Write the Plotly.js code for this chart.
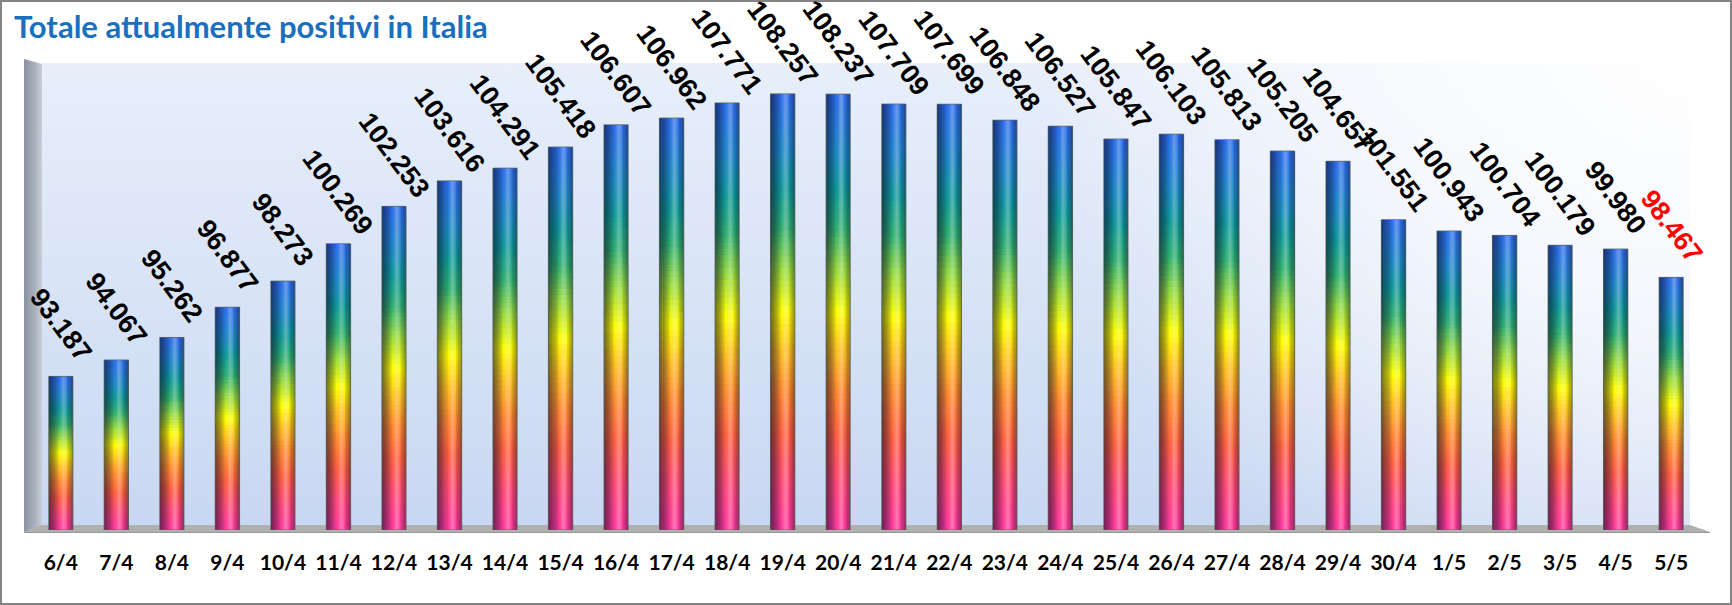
<!DOCTYPE html>
<html>
<head>
<meta charset="utf-8">
<script src="https://cdn.plot.ly/plotly-3.0.1.min.js"></script>
<style>
  html, body { margin: 0; padding: 0; background: #ffffff; }
  #chart { width: 1732px; height: 605px; }
</style>
</head>
<body>
<div id="chart"></div>
<script>
// ---- data ----
const dates = ["6/4","7/4","8/4","9/4","10/4","11/4","12/4","13/4","14/4","15/4",
               "16/4","17/4","18/4","19/4","20/4","21/4","22/4","23/4","24/4","25/4",
               "26/4","27/4","28/4","29/4","30/4","1/5","2/5","3/5","4/5","5/5"];
const positivi = [93187, 94067, 95262, 96877, 98273, 100269, 102253, 103616, 104291, 105418,
                  106607, 106962, 107771, 108257, 108237, 107709, 107699, 106848, 106527, 105847,
                  106103, 105813, 105205, 104657, 101551, 100943, 100704, 100179, 99980, 98467];
const yMin = 85000, yMax = 110000;

// ---- style ----
const W = 1732, H = 605;
const M = {l: 33, r: 33, t: 61, b: 75};
const barW = 0.44;
const gradStops = [
  [0.00, [255, 58, 160]],
  [0.11, [255, 74, 120]],
  [0.22, [255, 96, 64]],
  [0.32, [255, 138, 48]],
  [0.41, [255, 192, 32]],
  [0.50, [255, 255, 0]],
  [0.60, [150, 218, 64]],
  [0.69, [48, 176, 112]],
  [0.78, [16, 154, 154]],
  [0.87, [32, 136, 200]],
  [1.00, [47, 111, 240]]
];
function gradColor(f) {
  for (let i = 1; i < gradStops.length; i++) {
    if (f <= gradStops[i][0]) {
      const [f0, c0] = gradStops[i - 1], [f1, c1] = gradStops[i];
      const t = (f - f0) / (f1 - f0);
      const c = c0.map((v, j) => Math.round(v + (c1[j] - v) * t));
      return `rgb(${c[0]},${c[1]},${c[2]})`;
    }
  }
  const c = gradStops[gradStops.length - 1][1];
  return `rgb(${c[0]},${c[1]},${c[2]})`;
}
function fmt(v) {
  const th = Math.floor(v / 1000), r = v % 1000;
  return th > 0 ? th + "." + String(r).padStart(3, "0") : String(r);
}

const idx = dates.map((d, i) => i);
const traces = [];

// vertical colour gradient: overlaid segments each reaching the bar top
const N = 70;
for (let k = 0; k < N; k++) {
  traces.push({
    type: "bar", x: idx,
    base: positivi.map(v => yMin + (v - yMin) * k / N),
    y: positivi.map(v => (v - yMin) * (N - k) / N),
    width: barW,
    marker: {color: gradColor((k + 0.5) / N), line: {width: 0}},
    hoverinfo: "skip", showlegend: false
  });
}
// cylinder shading (left dark, right dark, highlight)
const K = 10;
for (let j = 0; j < K; j++) {
  const wl = barW * 0.42 * (K - j) / K;
  traces.push({
    type: "bar", x: idx, base: positivi.map(() => yMin), y: positivi.map(v => v - yMin),
    width: wl, offset: -barW / 2,
    marker: {color: "rgba(10,15,40,0.075)", line: {width: 0}},
    hoverinfo: "skip", showlegend: false
  });
  const wr = barW * 0.25 * (K - j) / K;
  traces.push({
    type: "bar", x: idx, base: positivi.map(() => yMin), y: positivi.map(v => v - yMin),
    width: wr, offset: barW / 2 - wr,
    marker: {color: "rgba(10,15,40,0.05)", line: {width: 0}},
    hoverinfo: "skip", showlegend: false
  });
  const wh = barW * 0.3 * (K - j) / K;
  traces.push({
    type: "bar", x: idx, base: positivi.map(() => yMin), y: positivi.map(v => v - yMin),
    width: wh, offset: barW * 0.12 - wh / 2,
    marker: {color: "rgba(255,255,255,0.035)", line: {width: 0}},
    hoverinfo: "skip", showlegend: false
  });
}
// outline
traces.push({
  type: "bar", x: idx, base: positivi.map(() => yMin), y: positivi.map(v => v - yMin),
  width: barW,
  marker: {color: "rgba(0,0,0,0)", line: {width: 1, color: "rgba(90,105,95,0.75)"}},
  hoverinfo: "skip", showlegend: false
});

// value labels
const annotations = positivi.map((v, i) => ({
  x: i, y: v, xref: "x", yref: "y",
  text: fmt(v), showarrow: false, textangle: 53,
  xanchor: "center", yanchor: "middle", yshift: 51,
  font: {family: "Liberation Sans Narrow, Arial Narrow, sans-serif", size: 27, weight: "bold",
         color: i === positivi.length - 1 ? "#FF0000" : "#000000"}
}));

// decorative 3D walls / floor / border as an SVG backdrop
const svg = `<svg xmlns="http://www.w3.org/2000/svg" width="${W}" height="${H}" viewBox="0 0 ${W} ${H}">
<defs>
<linearGradient id="bk" gradientUnits="userSpaceOnUse" x1="0" y1="63" x2="0" y2="526">
<stop offset="0" stop-color="#E8EFFB"/><stop offset="0.5" stop-color="#D8E3F6"/><stop offset="1" stop-color="#C8D7F2"/></linearGradient>
<radialGradient id="glow" gradientUnits="userSpaceOnUse" cx="1690" cy="40" r="650">
<stop offset="0" stop-color="#FFFFFF" stop-opacity="1"/><stop offset="0.45" stop-color="#FFFFFF" stop-opacity="0.7"/>
<stop offset="1" stop-color="#FFFFFF" stop-opacity="0"/></radialGradient>
<linearGradient id="lw" x1="0" y1="0" x2="1" y2="0">
<stop offset="0" stop-color="#8A92A3"/><stop offset="0.6" stop-color="#A9B0BD"/><stop offset="1" stop-color="#C9CED8"/></linearGradient>
</defs>
<polygon points="42,63 1690,63 1690,526 42,526" fill="url(#bk)"/>
<polygon points="42,63 1690,63 1690,526 42,526" fill="url(#glow)"/>
<polygon points="24,59 42,64 42,526 24,532" fill="url(#lw)"/>
<polygon points="24,532 42,525 1690,525 1710,532" fill="#AEB1AE"/>
<line x1="24" y1="532.5" x2="1710" y2="532.5" stroke="#969996" stroke-width="1"/>
<rect x="1" y="1" width="${W - 2}" height="${H - 2}" fill="none" stroke="#848484" stroke-width="2"/>
</svg>`;
const pw = W - M.l - M.r, ph = H - M.t - M.b;

const layout = {
  width: W, height: H,
  margin: {l: M.l, r: M.r, t: M.t, b: M.b, pad: 0},
  paper_bgcolor: "#FFFFFF", plot_bgcolor: "rgba(0,0,0,0)",
  barmode: "overlay", bargap: 0, showlegend: false,
  title: {
    text: "Totale attualmente positivi in Italia",
    x: 14 / W, xanchor: "left", xref: "container",
    y: 1 - 27 / H, yanchor: "middle", yref: "container",
    font: {family: "Lato, Open Sans, sans-serif", size: 31, color: "#1A6FBF", weight: "bold"}
  },
  xaxis: {
    range: [-0.5, dates.length - 0.5], tickvals: idx, ticktext: dates,
    showgrid: false, zeroline: false, showline: false, ticks: "",
    ticklabelstandoff: 18, fixedrange: true,
    tickfont: {family: "Lato, Open Sans, sans-serif", size: 21, color: "#000000", weight: "bold"}
  },
  yaxis: {range: [yMin, yMax], visible: false, fixedrange: true, showgrid: false, zeroline: false},
  annotations: annotations,
  images: [{
    source: "data:image/svg+xml;charset=utf-8," + encodeURIComponent(svg),
    xref: "paper", yref: "paper",
    x: -M.l / pw, y: 1 + M.t / ph, sizex: W / pw, sizey: H / ph,
    xanchor: "left", yanchor: "top", sizing: "stretch", layer: "below"
  }]
};

Plotly.newPlot("chart", traces, layout, {displayModeBar: false, staticPlot: true});
</script>
</body>
</html>
